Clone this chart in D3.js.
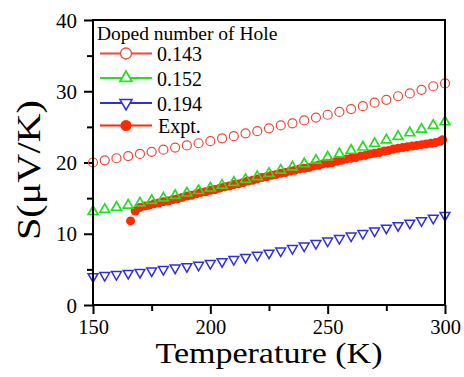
<!DOCTYPE html>
<html><head><meta charset="utf-8">
<script src="https://cdn.jsdelivr.net/npm/d3@7"></script>
<style>body{margin:0;background:#fff}svg{display:block}svg text{font-family:"Liberation Serif","Times New Roman",Tinos,serif !important;fill:#000}</style>
</head><body><svg id="c" width="464" height="377"></svg>
<script>
const temps = [150,155,160,165,170,175,180,185,190,195,200,205,210,215,220,225,230,235,240,245,250,255,260,265,270,275,280,285,290,295,300];
const s143 = [20.0,20.3,20.6,20.9,21.2,21.5,21.8,22.1,22.4,22.7,23.0,23.4,23.7,24.1,24.4,24.8,25.2,25.5,25.9,26.3,26.7,27.1,27.5,27.9,28.4,28.8,29.3,29.7,30.2,30.7,31.1];
const s152 = [13.1,13.4,13.7,14.0,14.3,14.65,15.0,15.35,15.7,16.05,16.4,16.8,17.2,17.6,18.0,18.45,18.9,19.35,19.8,20.3,20.75,21.2,21.7,22.15,22.65,23.15,23.65,24.15,24.65,25.2,25.7];
const s194 = [4.0,4.15,4.3,4.45,4.6,4.8,5.0,5.2,5.4,5.6,5.85,6.1,6.4,6.7,7.0,7.3,7.6,7.95,8.3,8.65,9.0,9.35,9.7,10.05,10.4,10.8,11.15,11.5,11.85,12.2,12.6];
const exptT = [166,168,170,172,174,176,178,180,182,184,186,188,190,192,194,196,198,200,202,204,206,208,210,212,214,216,218,220,222,224,226,228,230,232,234,236,238,240,242,244,246,248,250,252,254,256,258,260,262,264,266,268,270,272,274,276,278,280,282,284,286,288,290,292,294,296,298,299];
const exptS = [11.8,13.2,13.7,13.9,14.0,14.2,14.3,14.5,14.6,14.8,14.9,15.1,15.3,15.4,15.6,15.8,15.9,16.1,16.2,16.4,16.6,16.7,16.9,17.0,17.2,17.4,17.5,17.7,17.9,18.0,18.2,18.3,18.5,18.6,18.8,18.9,19.1,19.2,19.3,19.5,19.6,19.8,19.9,20.0,20.2,20.3,20.5,20.6,20.7,20.9,21.0,21.2,21.3,21.4,21.6,21.7,21.9,22.0,22.1,22.2,22.3,22.4,22.5,22.6,22.7,22.8,23.0,23.2];
const xMajor = [150,200,250,300];
const xMinor = [175,225,275];
const yMajor = [0,10,20,30,40];
const yMinor = [5,15,25,35];
const legendTitle = "Doped number of Hole";
const legendLabels = ["0.143","0.152","0.194","Expt."];

const C_RED = "#ec4a38", C_GREEN = "#22e022", C_BLUE = "#3030d8", C_EXPT = "#ff2a00";
const FONT = '"Liberation Serif","Times New Roman",Tinos,serif';

const svg = d3.select("#c");
const L = 93, R = 445, T = 20, B = 305;
const x = d3.scaleLinear().domain([150,300]).range([L,R]);
const y = d3.scaleLinear().domain([0,40]).range([B,T]);

const ax = svg.append("g").attr("transform",`translate(0,${B})`)
  .call(d3.axisBottom(x).tickValues(xMajor).tickSize(9).tickSizeOuter(0).tickPadding(6).tickFormat(d3.format("d")));
const axm = svg.append("g").attr("transform",`translate(0,${B})`)
  .call(d3.axisBottom(x).tickValues(xMinor).tickSize(6).tickSizeOuter(0).tickFormat(""));
const ay = svg.append("g").attr("transform",`translate(${L},0)`)
  .call(d3.axisLeft(y).tickValues(yMajor).tickSize(9).tickSizeOuter(0).tickPadding(7).tickFormat(d3.format("d")));
const aym = svg.append("g").attr("transform",`translate(${L},0)`)
  .call(d3.axisLeft(y).tickValues(yMinor).tickSize(6).tickSizeOuter(0).tickFormat(""));
[ax,axm,ay,aym].forEach(g=>{g.attr("font-family",FONT);g.select(".domain").remove();g.selectAll("line").attr("stroke","#000").attr("stroke-width",2);});
ax.selectAll("text").attr("font-size",20.5).attr("y",14.5).attr("dy","0.71em");
ay.selectAll("text").attr("font-size",21).attr("dy","0.34em");

svg.append("text").attr("x",(L+R)/2).attr("y",363).attr("text-anchor","middle").attr("font-family",FONT)
  .attr("font-size",28.5).attr("textLength",227).attr("lengthAdjust","spacingAndGlyphs").text("Temperature (K)");
svg.append("text").attr("transform","translate(40,170) rotate(-90)").attr("text-anchor","middle").attr("font-family",FONT)
  .attr("font-size",33).attr("textLength",140).attr("lengthAdjust","spacingAndGlyphs").text("S(\u03bcV/K)");

const plot = svg.append("g");
const tri = d3.symbol().type(d3.symbolTriangle).size(42);

plot.selectAll(".c143").data(temps).join("circle")
  .attr("cx",d=>x(d)).attr("cy",(d,i)=>y(s143[i])).attr("r",4.5)
  .attr("fill","none").attr("stroke",C_RED).attr("stroke-width",1.2);
plot.selectAll(".ex").data(exptT).join("circle")
  .attr("cx",d=>x(d)).attr("cy",(d,i)=>y(exptS[i])).attr("r",4.5).attr("fill",C_EXPT);
plot.selectAll(".t152").data(temps).join("path")
  .attr("d",tri).attr("transform",(d,i)=>`translate(${x(d)},${y(s152[i])})`)
  .attr("fill","none").attr("stroke",C_GREEN).attr("stroke-width",1.7);
plot.selectAll(".t194").data(temps).join("path")
  .attr("d",tri).attr("transform",(d,i)=>`translate(${x(d)},${y(s194[i])}) rotate(180)`)
  .attr("fill","none").attr("stroke",C_BLUE).attr("stroke-width",1.5);

svg.append("rect").attr("x",L).attr("y",T).attr("width",R-L).attr("height",B-T)
  .attr("fill","none").attr("stroke","#000").attr("stroke-width",2);

const lg = svg.append("g").attr("font-family",FONT);
lg.append("text").attr("x",97).attr("y",40).attr("font-size",19.5).text(legendTitle);
const rowsY = [53.5,78,103,125.5];
const cols = [C_RED,C_GREEN,C_BLUE,C_EXPT];
rowsY.forEach((ry,i)=>{
  lg.append("line").attr("x1",100).attr("x2",152).attr("y1",ry).attr("y2",ry).attr("stroke",cols[i]).attr("stroke-width",2);
  const mx = 126;
  const ls = d3.symbol().type(d3.symbolTriangle).size(62);
  if(i===0) lg.append("circle").attr("cx",mx).attr("cy",ry).attr("r",5.5).attr("fill","#fff").attr("stroke",cols[i]).attr("stroke-width",1.3);
  if(i===1) lg.append("path").attr("d",ls).attr("transform",`translate(${mx},${ry})`).attr("fill","#fff").attr("stroke",cols[i]).attr("stroke-width",1.8);
  if(i===2) lg.append("path").attr("d",ls).attr("transform",`translate(${mx},${ry}) rotate(180)`).attr("fill","#fff").attr("stroke",cols[i]).attr("stroke-width",1.6);
  if(i===3) lg.append("circle").attr("cx",mx).attr("cy",ry).attr("r",5.5).attr("fill",cols[i]);
  lg.append("text").attr("x",i===3?158:157).attr("y",ry+7.5).attr("font-size",20).text(legendLabels[i]);
});
</script></body></html>
